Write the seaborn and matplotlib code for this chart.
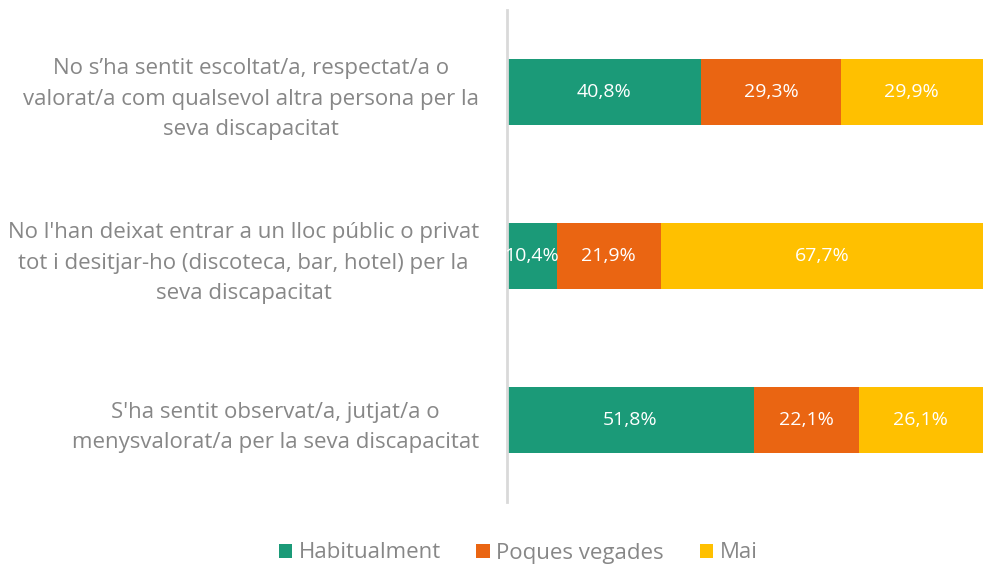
import numpy as np
import pandas as pd
import matplotlib.pyplot as plt
import seaborn as sns

categories = [
    "No s\u2019ha sentit escoltat/a, respectat/a o\nvalorat/a com qualsevol altra persona per la\nseva discapacitat",
    "No l'han deixat entrar a un lloc p\u00fablic o privat\ntot i desitjar-ho (discoteca, bar, hotel) per la\nseva discapacitat",
    "S'ha sentit observat/a, jutjat/a o\nmenysvalorat/a per la seva discapacitat",
]
series = ["Habitualment", "Poques vegades", "Mai"]
habitualment = [40.8, 10.4, 51.8]
poques = [29.3, 21.9, 22.1]
mai = [29.9, 67.7, 26.1]
colors = ["#1B9A78", "#EA6512", "#FFC000"]

sns.set_theme(style="white")
plt.rcParams['font.family'] = ['Open Sans', 'DejaVu Sans']
text_color = "#878787"

vals = np.array([habitualment, poques, mai])
cum = vals.cumsum(axis=0)

fig = plt.figure(figsize=(9.83, 5.72), dpi=100)
ax = fig.add_axes([507 / 983, 1 - 502 / 572, 1 - 507 / 983, 492 / 572])

# stacked by overdrawing cumulative bars, widest first
for i in range(2, -1, -1):
    df = pd.DataFrame({"cat": categories, "val": cum[i]})
    sns.barplot(data=df, x="val", y="cat", color=colors[i], width=0.4,
                saturation=1, linewidth=0, ax=ax, label=series[i])

for i in range(3):
    for j in range(3):
        centre = cum[i][j] - vals[i][j] / 2
        ax.text(centre, j, f"{vals[i][j]:.1f}%".replace(".", ","),
                ha="center", va="center", color="white", fontsize=14)

ax.set_xlim(0, 100)
ax.set_ylim(2.5, -0.5)
ax.set_xlabel("")
ax.set_ylabel("")
ax.set_xticks([])
for s in ["top", "right", "bottom"]:
    ax.spines[s].set_visible(False)
ax.spines["left"].set_color("#D9D9D9")
ax.spines["left"].set_linewidth(2)
ax.tick_params(axis="y", length=0, pad=20)
for lab in ax.get_yticklabels():
    lab.set_multialignment("center")
    lab.set_color(text_color)
    lab.set_fontsize(16)
    lab.set_linespacing(1.6)

handles, labels = ax.get_legend_handles_labels()
order = [labels.index(s) for s in series]
leg = fig.legend([handles[k] for k in order], [labels[k] for k in order],
                 loc="center", bbox_to_anchor=(518 / 983, 1 - 553 / 572),
                 ncol=3, frameon=False, fontsize=16, handlelength=0.6,
                 handleheight=0.6, handletextpad=0.3, columnspacing=1.6)
for t in leg.get_texts():
    t.set_color(text_color)
if ax.legend_:
    ax.legend_.remove()

fig.savefig("out.png", dpi=100)
